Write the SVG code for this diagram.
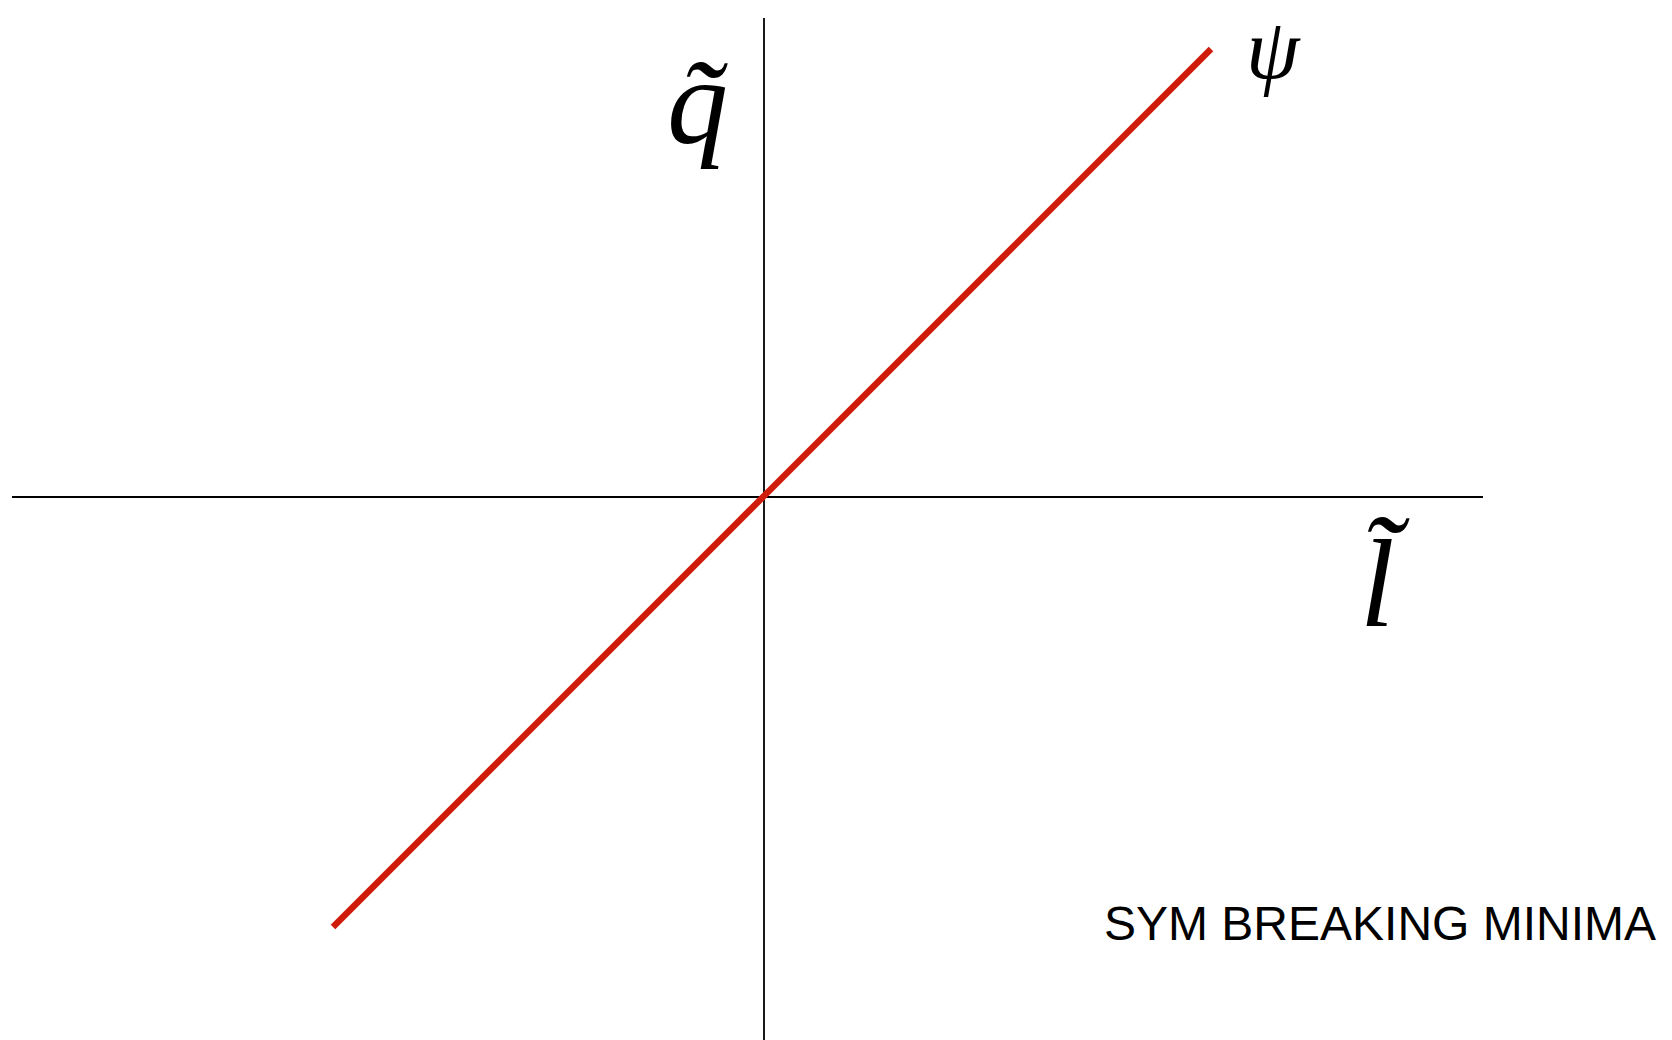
<svg xmlns="http://www.w3.org/2000/svg" width="1672" height="1040" viewBox="0 0 1672 1040">
<style>
.axis{stroke:#000;stroke-width:1.8;fill:none}
.math{font-family:"Liberation Serif","DejaVu Serif",serif;font-style:italic;fill:#000}
.lbl{font-family:"Liberation Sans",Arial,sans-serif;font-size:48px;fill:#000}
</style>
<rect width="1672" height="1040" fill="#fff"/>
<g id="connectors">
<line class="axis" x1="764" y1="18" x2="764" y2="1040"/>
<line class="axis" x1="12" y1="497" x2="1483" y2="497"/>
<line x1="333" y1="927" x2="1211" y2="49" stroke="#d01c0b" stroke-width="6.5"/>
</g>
<g id="q-label">
<text class="math" x="667" y="143" font-size="122">q̃</text>
</g>
<g id="psi-label">
<text class="math" x="1246" y="78" font-size="86">ψ</text>
</g>
<g id="l-label">
<text class="math" x="1360" y="626" font-size="124">l̃</text>
</g>
<g id="caption">
<text class="lbl" x="1104" y="940">SYM BREAKING MINIMA</text>
</g>
</svg>
